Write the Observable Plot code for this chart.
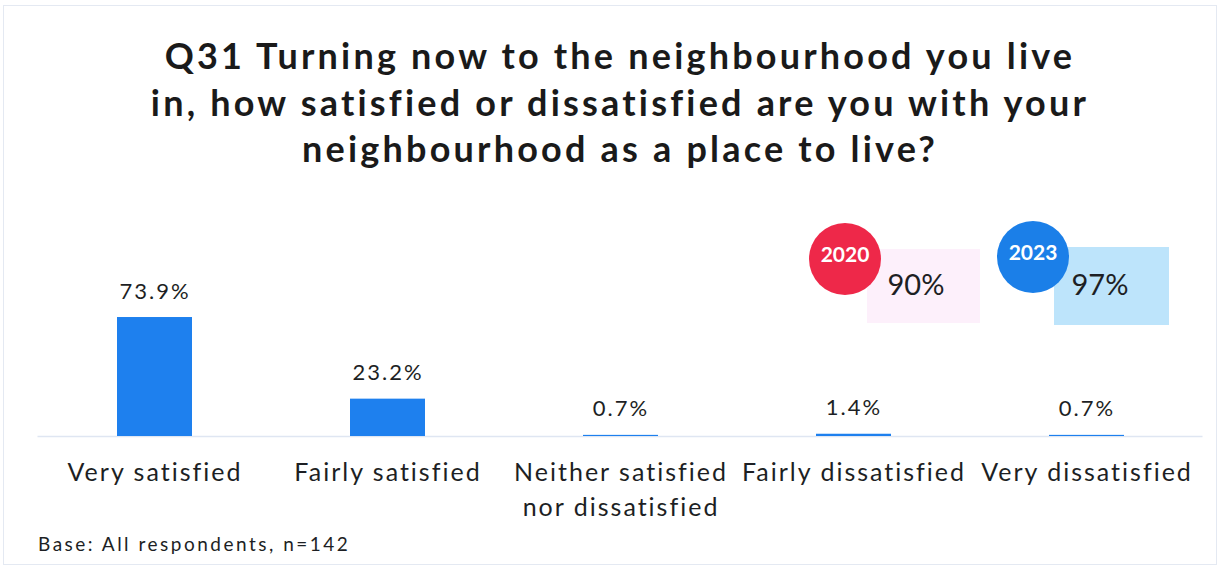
<!DOCTYPE html>
<html>
<head>
<meta charset="utf-8">
<script src="https://cdn.jsdelivr.net/npm/d3@7"></script>
<script src="https://cdn.jsdelivr.net/npm/@observablehq/plot@0.6"></script>
<style>
  html, body { margin: 0; padding: 0; background: #fff; }
  #page { position: relative; width: 1221px; height: 569px; overflow: hidden; font-family: Lato, "Noto Sans", sans-serif; color: #1d1f24; }
  #frame { position: absolute; left: 3px; top: 5px; width: 1214px; height: 560px; border: 1px solid #e4e9f2; box-sizing: border-box; }
  #title { position: absolute; left: 0; top: 32px; width: 1240px; text-align: center; font-weight: 700; font-size: 36px; letter-spacing: 3.2px; line-height: 46.5px; color: #1a1a1a; }
  #chart { position: absolute; left: 0; top: 190px; }
  #footer { position: absolute; left: 38px; top: 532px; font-size: 19px; letter-spacing: 2.5px; color: #1d1f24; }
  .box { position: absolute; }
  .circle { position: absolute; width: 72px; height: 72px; border-radius: 50%; color: #fff; font-weight: 700; font-size: 21px; text-align: center; line-height: 62px; }
  .pct { position: absolute; font-size: 29px; text-align: center; color: #1d1f24; }
</style>
</head>
<body>
<div id="page">
  <div id="frame"></div>
  <div id="title">Q31 Turning now to the neighbourhood you live<br>in, how satisfied or dissatisfied are you with your<br>neighbourhood as a place to live?</div>
  <div id="chart"></div>
  <div id="badges"></div>
  <div id="footer">Base: All respondents, n=142</div>
</div>
<script>
const categories = ["Very satisfied", "Fairly satisfied", "Neither satisfied\nnor dissatisfied", "Fairly dissatisfied", "Very dissatisfied"];
const values = [73.9, 23.2, 0.7, 1.4, 0.7];
const years = ["2020", "2023"];
const overallSatisfied = [90, 97];

const data = categories.map((c, i) => ({category: c, value: values[i]}));

const chart = Plot.plot({
  width: 1221,
  height: 340,
  marginLeft: 37.5,
  marginRight: 18.5,
  marginTop: 85,
  marginBottom: 94,
  style: {fontFamily: "Lato, 'Noto Sans', sans-serif", background: "transparent", color: "#1d1f24", letterSpacing: "2px"},
  x: {domain: categories, paddingInner: 0.68, paddingOuter: 0.34, label: null},
  y: {domain: [0, 100], axis: null},
  marks: [
    Plot.ruleY([0], {stroke: "#dfe6f2", strokeWidth: 1.5}),
    Plot.barY(data, {x: "category", y: "value", fill: "#1e80ee"}),
    Plot.text(data, {x: "category", y: "value", text: d => d.value.toFixed(1) + "%", dy: -26, fontSize: 22, fill: "#1d1f24"}),
    Plot.axisX({tickSize: 0, tickPadding: 20, fontSize: 25, lineHeight: 1.4, fill: "#1d1f24", label: null})
  ]
});
document.getElementById("chart").appendChild(chart);

// Year badges (overall satisfied)
const badgeStyle = [
  {circle: "#ee2849", box: "#fdf0fb", cx: 809, cy: 223, bx: 867, by: 249, bw: 113, bh: 74, tx: 916},
  {circle: "#1b7fe8", box: "#bde4fb", cx: 997, cy: 221, bx: 1054, by: 247, bw: 115, bh: 78, tx: 1100}
];
const badges = document.getElementById("badges");
years.forEach((yr, i) => {
  const s = badgeStyle[i];
  const box = document.createElement("div");
  box.className = "box";
  Object.assign(box.style, {left: s.bx + "px", top: s.by + "px", width: s.bw + "px", height: s.bh + "px", background: s.box});
  badges.appendChild(box);
  const pct = document.createElement("div");
  pct.className = "pct";
  pct.textContent = overallSatisfied[i] + "%";
  Object.assign(pct.style, {left: (s.tx - 50) + "px", width: "100px", top: "266px"});
  badges.appendChild(pct);
  const c = document.createElement("div");
  c.className = "circle";
  c.textContent = yr;
  Object.assign(c.style, {left: s.cx + "px", top: s.cy + "px", background: s.circle});
  badges.appendChild(c);
});
</script>
</body>
</html>
